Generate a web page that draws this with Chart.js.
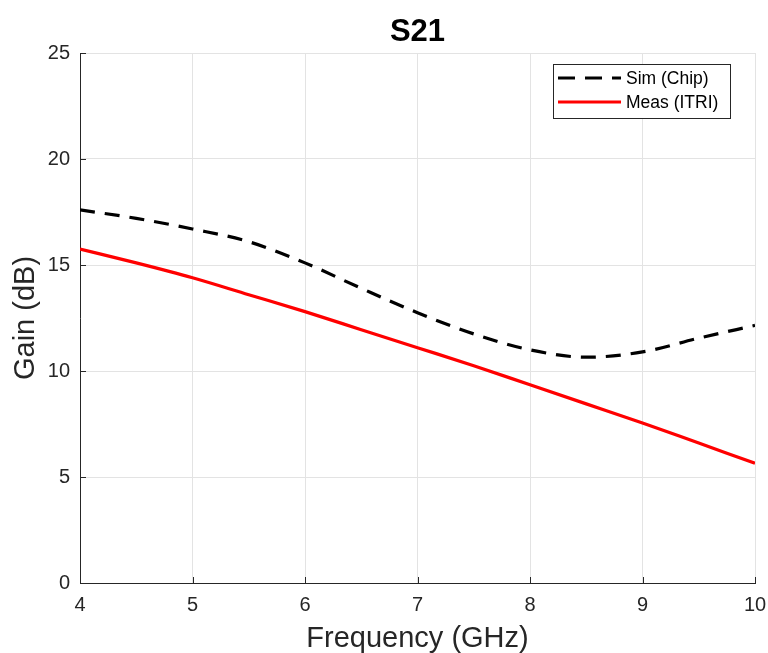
<!DOCTYPE html>
<html>
<head>
<meta charset="utf-8">
<script src="https://cdn.jsdelivr.net/npm/chart.js@4.4.1/dist/chart.umd.min.js"></script>
<style>
  html, body { margin: 0; padding: 0; background: #ffffff; }
  #wrap { width: 768px; height: 653px; }
</style>
</head>
<body>
<div id="wrap"><canvas id="c" width="768" height="653"></canvas></div>
<script>
// Frequency sweep (GHz)
const freqGHz = [4, 4.5, 5, 5.5, 6, 6.5, 7, 7.5, 8, 8.5, 9, 9.5, 10];
// Simulated S21 of the chip (dB)
const simChip = [17.6, 17.2, 16.7, 16.1, 15.1, 13.9, 12.75, 11.75, 11.0, 10.65, 10.9, 11.55, 12.15];
// Measured S21, ITRI (dB)
const measITRI = [15.75, 15.1, 14.4, 13.6, 12.8, 11.95, 11.1, 10.25, 9.35, 8.45, 7.55, 6.6, 5.65];

const xTicks = [4, 5, 6, 7, 8, 9, 10];
const yTicks = [0, 5, 10, 15, 20, 25];

const seriesNames = ['Sim (Chip)', 'Meas (ITRI)'];
const axisColor = '#262626';
const FONT = '"Liberation Sans", Arial, Helvetica, sans-serif';

function toPoints(xs, ys) { return xs.map((x, i) => ({ x: x, y: ys[i] })); }

// Title, inward tick marks and boxed legend
const decorPlugin = {
  id: 'decor',
  afterDraw(chart) {
    const ctx = chart.ctx;
    const area = chart.chartArea;
    const xs = chart.scales.x, ys = chart.scales.y;
    ctx.save();

    // title
    ctx.fillStyle = '#000000';
    ctx.font = 'bold 31px ' + FONT;
    ctx.textAlign = 'center';
    ctx.textBaseline = 'middle';
    ctx.fillText('S21', (area.left + area.right) / 2, 32);

    // inward ticks
    ctx.strokeStyle = axisColor;
    ctx.lineWidth = 1;
    ctx.beginPath();
    xTicks.forEach(v => {
      const px = Math.round(xs.getPixelForValue(v)) + 0.5;
      ctx.moveTo(px, area.bottom);
      ctx.lineTo(px, area.bottom - 6);
    });
    yTicks.forEach(v => {
      const py = Math.round(ys.getPixelForValue(v)) + 0.5;
      ctx.moveTo(area.left, py);
      ctx.lineTo(area.left + 6, py);
    });
    ctx.stroke();

    // legend box
    const bx = 553.5, by = 64.5, bw = 177, bh = 54;
    ctx.fillStyle = '#ffffff';
    ctx.fillRect(bx, by, bw, bh);
    ctx.strokeStyle = axisColor;
    ctx.lineWidth = 1;
    ctx.strokeRect(bx, by, bw, bh);

    const rows = [78, 102];
    chart.data.datasets.forEach((ds, i) => {
      const y = rows[i];
      ctx.beginPath();
      ctx.strokeStyle = ds.borderColor;
      ctx.lineWidth = 3;
      ctx.setLineDash(ds.borderDash ? [17, 10] : []);
      ctx.moveTo(558, y);
      ctx.lineTo(621, y);
      ctx.stroke();
      ctx.setLineDash([]);
      ctx.fillStyle = '#000000';
      ctx.font = '17.5px ' + FONT;
      ctx.textAlign = 'left';
      ctx.textBaseline = 'middle';
      ctx.fillText(ds.label, 626, y + 1);
    });
    ctx.restore();
  }
};

new Chart(document.getElementById('c'), {
  type: 'line',
  data: {
    datasets: [
      {
        label: seriesNames[0],
        data: toPoints(freqGHz, simChip),
        borderColor: '#000000',
        borderWidth: 3.2,
        borderDash: [15, 10],
        pointRadius: 0,
        fill: false,
        cubicInterpolationMode: 'monotone'
      },
      {
        label: seriesNames[1],
        data: toPoints(freqGHz, measITRI),
        borderColor: '#ff0000',
        borderWidth: 3.2,
        pointRadius: 0,
        fill: false,
        cubicInterpolationMode: 'monotone'
      }
    ]
  },
  options: {
    responsive: false,
    animation: false,
    layout: { padding: { top: 53, right: 13, left: 0, bottom: 0 } },
    plugins: {
      legend: { display: false },
      title: { display: false },
      tooltip: { enabled: false }
    },
    scales: {
      x: {
        type: 'linear',
        min: 4, max: 10,
        afterFit(scale) { scale.height = 70; scale.paddingRight = 0; scale.paddingLeft = 0; },
        afterBuildTicks(scale) { scale.ticks = xTicks.map(v => ({ value: v })); },
        grid: { color: '#e3e3e3', lineWidth: 1, drawTicks: false },
        border: { display: true, color: axisColor, width: 1 },
        ticks: {
          color: axisColor,
          font: { family: FONT, size: 20 },
          padding: 10,
          maxRotation: 0
        },
        title: {
          display: true,
          text: 'Frequency (GHz)',
          color: axisColor,
          font: { family: FONT, size: 29, lineHeight: 1 },
          padding: { top: 0, bottom: 0 }
        }
      },
      y: {
        type: 'linear',
        min: 0, max: 25,
        afterFit(scale) { scale.width = 80; scale.paddingTop = 0; scale.paddingBottom = 0; },
        afterBuildTicks(scale) { scale.ticks = yTicks.map(v => ({ value: v })); },
        grid: { color: '#e3e3e3', lineWidth: 1, drawTicks: false },
        border: { display: true, color: axisColor, width: 1 },
        ticks: {
          color: axisColor,
          font: { family: FONT, size: 20 },
          padding: 10
        },
        title: {
          display: true,
          text: 'Gain (dB)',
          color: axisColor,
          font: { family: FONT, size: 29, lineHeight: 1 },
          padding: { top: 11, bottom: 0 }
        }
      }
    }
  },
  plugins: [decorPlugin]
});
</script>
</body>
</html>
